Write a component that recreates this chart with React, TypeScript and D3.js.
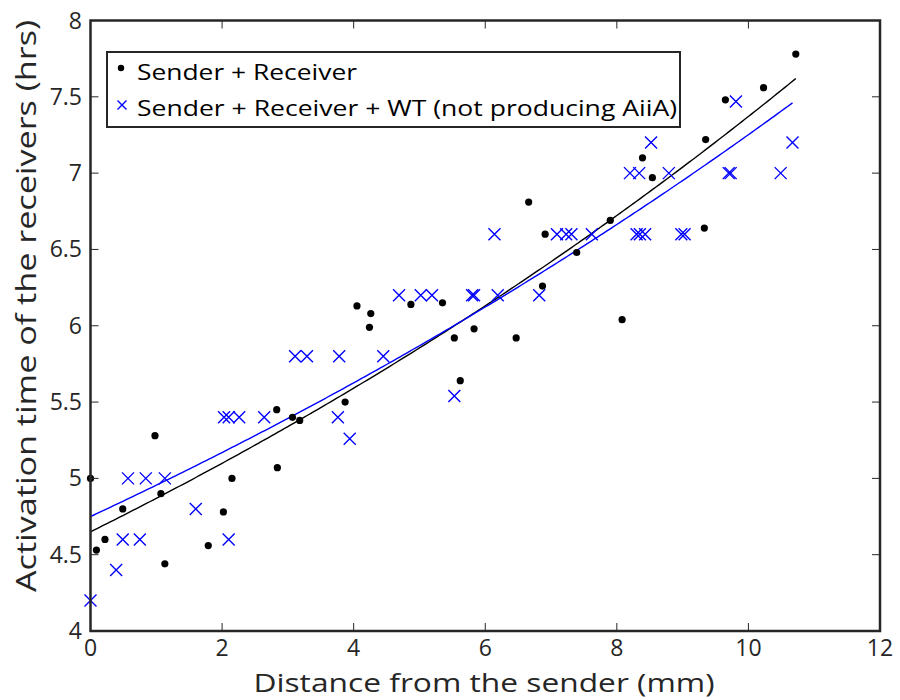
import React from "react";
import * as d3 from "d3";

// ---- Data ----
const senderX = [0.0, 0.09, 0.22, 0.49, 0.98, 1.07, 1.13, 1.79, 2.02, 2.15, 2.83, 2.84, 3.07, 3.18, 3.87, 4.05, 4.26, 4.24, 4.87, 5.35, 5.53, 5.62, 5.83, 6.47, 6.66, 6.87, 6.91, 7.39, 7.90, 8.08, 8.39, 8.54, 9.35, 9.33, 9.65, 10.23, 10.72];
const senderY = [5.0, 4.53, 4.60, 4.80, 5.28, 4.90, 4.44, 4.56, 4.78, 5.00, 5.45, 5.07, 5.40, 5.38, 5.50, 6.13, 6.08, 5.99, 6.14, 6.15, 5.92, 5.64, 5.98, 5.92, 6.81, 6.26, 6.60, 6.48, 6.69, 6.04, 7.10, 6.97, 7.22, 6.64, 7.48, 7.56, 7.78];

const wtX = [0.0, 0.39, 0.49, 0.75, 0.57, 0.84, 1.13, 1.60, 2.10, 2.03, 2.10, 2.26, 2.64, 3.11, 3.29, 3.76, 3.78, 3.94, 4.45, 4.69, 5.02, 5.19, 5.53, 5.80, 5.83, 6.14, 6.19, 6.82, 7.09, 7.23, 7.31, 7.62, 8.20, 8.30, 8.34, 8.35, 8.43, 8.52, 8.79, 8.98, 9.03, 9.70, 9.73, 9.81, 10.49, 10.67];
const wtY = [4.20, 4.40, 4.60, 4.60, 5.00, 5.00, 5.00, 4.80, 4.60, 5.40, 5.40, 5.40, 5.40, 5.80, 5.80, 5.40, 5.80, 5.26, 5.80, 6.20, 6.20, 6.20, 5.54, 6.20, 6.20, 6.60, 6.20, 6.20, 6.60, 6.60, 6.60, 6.60, 7.00, 6.60, 7.00, 6.60, 6.60, 7.20, 7.00, 6.60, 6.60, 7.00, 7.00, 7.47, 7.00, 7.20];

// exponential fits y = a * exp(b * x)
const senderFit = { a: 4.65, b: 0.04607, xMax: 10.72 };
const wtFit = { a: 4.75, b: 0.04231, xMax: 10.67 };

const xTicks = [0, 2, 4, 6, 8, 10, 12];
const yTicks = [4, 4.5, 5, 5.5, 6, 6.5, 7, 7.5, 8];

const legendLabels = ["Sender + Receiver", "Sender + Receiver + WT (not producing AiiA)"];
const xLabel = "Distance from the sender (mm)";
const yLabel = "Activation time of the receivers (hrs)";

const FONT = "'Open Sans', 'DejaVu Sans', sans-serif";
const AX = "#262626";
const BLUE = "#0000ff";

export default function App() {
  const W = 900, H = 700;
  const L = 90.5, R = 880, T = 20.5, B = 631;
  const x = d3.scaleLinear().domain([0, 12]).range([L, R]);
  const y = d3.scaleLinear().domain([4, 8]).range([B, T]);

  const curve = (f: { a: number; b: number; xMax: number }) => {
    const xs = d3.range(0, f.xMax, 0.05).concat([f.xMax]);
    return d3
      .line<number>()
      .x((d) => x(d))
      .y((d) => y(f.a * Math.exp(f.b * d)))(xs) as string;
  };

  const tickLen = 8;
  const cross = (cx: number, cy: number, s: number, key: string) => (
    <path
      key={key}
      d={`M${cx - s},${cy - s}L${cx + s},${cy + s}M${cx - s},${cy + s}L${cx + s},${cy - s}`}
      stroke={BLUE}
      strokeWidth={1.4}
      fill="none"
    />
  );

  return (
    <>
      <style>{"body{margin:0}"}</style>
      <svg width={W} height={H} style={{ display: "block", background: "#fff" }}>
        {/* fits */}
        <path d={curve(senderFit)} stroke="#000" strokeWidth={1.4} fill="none" />
        <path d={curve(wtFit)} stroke={BLUE} strokeWidth={1.4} fill="none" />

        {/* points */}
        {senderX.map((v, i) => (
          <circle key={"s" + i} cx={x(v)} cy={y(senderY[i])} r={3.6} fill="#000" />
        ))}
        {wtX.map((v, i) => cross(x(v), y(wtY[i]), 6, "w" + i))}

        {/* ticks */}
        {xTicks.map((t) => (
          <g key={"xt" + t}>
            <line x1={x(t)} x2={x(t)} y1={B} y2={B - tickLen} stroke={AX} strokeWidth={1} />
            <line x1={x(t)} x2={x(t)} y1={T} y2={T + tickLen} stroke={AX} strokeWidth={1} />
            <text x={x(t)} y={656} textAnchor="middle" fontFamily={FONT} fontSize={23} fill={AX}>
              {t}
            </text>
          </g>
        ))}
        {yTicks.map((t) => (
          <g key={"yt" + t}>
            <line x1={L} x2={L + tickLen} y1={y(t)} y2={y(t)} stroke={AX} strokeWidth={1} />
            <line x1={R} x2={R - tickLen} y1={y(t)} y2={y(t)} stroke={AX} strokeWidth={1} />
            <text x={82} y={y(t)} dy="0.35em" textAnchor="end" fontFamily={FONT} fontSize={23} fill={AX}>
              {t}
            </text>
          </g>
        ))}

        {/* frame */}
        <rect x={L} y={T} width={R - L} height={B - T} fill="none" stroke={AX} strokeWidth={2.5} />

        {/* axis labels */}
        <text x={484} y={692} textAnchor="middle" fontFamily={FONT} fontSize={26} fill={AX}
          textLength={461} lengthAdjust="spacingAndGlyphs">
          {xLabel}
        </text>
        <text transform={`translate(36,306) rotate(-90)`} textAnchor="middle" fontFamily={FONT} fontSize={28} fill={AX}
          textLength={572} lengthAdjust="spacingAndGlyphs">
          {yLabel}
        </text>

        {/* legend */}
        <rect x={107} y={52} width={573} height={75} fill="#fff" stroke={AX} strokeWidth={2} />
        <circle cx={121} cy={68} r={3.2} fill="#000" />
        {cross(122, 105, 4.5, "legx")}
        <text x={137} y={80} fontFamily={FONT} fontSize={22} fill="#000" textLength={220} lengthAdjust="spacingAndGlyphs">
          {legendLabels[0]}
        </text>
        <text x={137} y={116} fontFamily={FONT} fontSize={22} fill="#000" textLength={540} lengthAdjust="spacingAndGlyphs">
          {legendLabels[1]}
        </text>
      </svg>
    </>
  );
}
